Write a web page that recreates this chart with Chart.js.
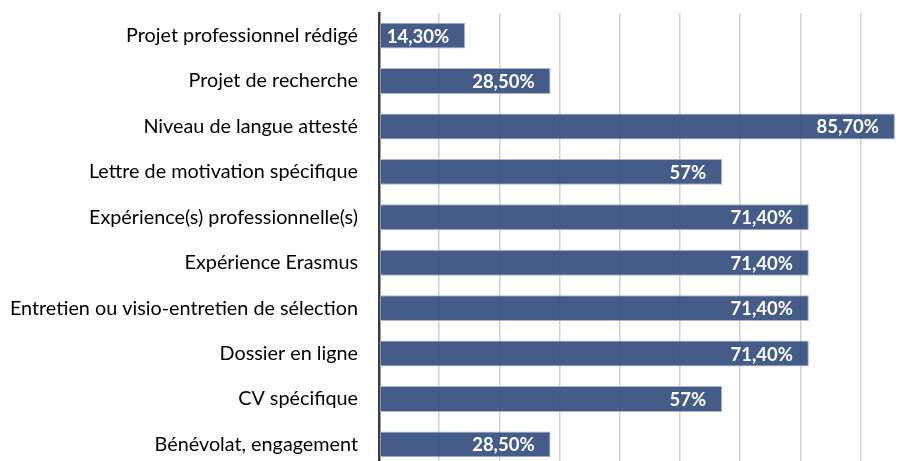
<!DOCTYPE html>
<html>
<head>
<meta charset="utf-8">
<script src="https://cdn.jsdelivr.net/npm/chart.js@4.4.1/dist/chart.umd.min.js"></script>
<style>
  html, body { margin: 0; padding: 0; background: #fff; }
  #wrap { width: 909px; height: 461px; overflow: hidden; position: relative; }
  #wrap canvas { position: absolute; left: 0; top: -12px; }
</style>
</head>
<body>
<div id="wrap"><canvas id="chart" width="982" height="504"></canvas></div>
<script>
const categories = [
  'Projet professionnel rédigé',
  'Projet de recherche',
  'Niveau de langue attesté',
  'Lettre de motivation spécifique',
  'Expérience(s) professionnelle(s)',
  'Expérience Erasmus',
  'Entretien ou visio-entretien de sélection',
  'Dossier en ligne',
  'CV spécifique',
  'Bénévolat, engagement'
];
const percentages = [14.3, 28.5, 85.7, 57, 71.4, 71.4, 71.4, 71.4, 57, 28.5];
const axisMin = 0;
const axisMax = 100;
const axisStep = 10;

// french style: 14,30% / 57%
function formatPct(v) {
  if (Number.isInteger(v)) return v + '%';
  return v.toFixed(2).replace('.', ',') + '%';
}

const FONT = 'Lato, "Open Sans", sans-serif';

const valueLabels = {
  id: 'valueLabels',
  afterDatasetsDraw(chart) {
    const ctx = chart.ctx;
    const meta = chart.getDatasetMeta(0);
    ctx.save();
    ctx.font = 'bold 18.5px ' + FONT;
    ctx.fillStyle = '#ffffff';
    ctx.textAlign = 'right';
    ctx.textBaseline = 'middle';
    meta.data.forEach((bar, i) => {
      ctx.fillText(formatPct(percentages[i]), bar.x - 16, bar.y + 1);
    });
    ctx.restore();
  }
};

new Chart(document.getElementById('chart').getContext('2d'), {
  type: 'bar',
  data: {
    labels: categories,
    datasets: [{
      data: percentages,
      backgroundColor: 'rgba(55, 80, 128, 0.93)',
      borderColor: '#a9b6cf',
      borderWidth: 1,
      borderSkipped: false,
      barPercentage: 0.57,
      categoryPercentage: 1
    }]
  },
  options: {
    indexAxis: 'y',
    responsive: false,
    animation: false,
    layout: { padding: { top: 0, right: 1, bottom: 0, left: 0 } },
    plugins: {
      legend: { display: false },
      tooltip: { enabled: false }
    },
    scales: {
      x: {
        min: axisMin,
        max: axisMax,
        ticks: { display: false, stepSize: axisStep },
        grid: { color: '#d2d2d2', lineWidth: 1.5, drawTicks: false },
        border: { display: false },
        afterFit(scale) { scale.height = 0; }
      },
      y: {
        grid: { display: false },
        border: { display: true, color: '#3c3c3c', width: 2.5 },
        ticks: {
          color: '#000',
          padding: 13,
          font: { family: FONT, size: 19.8 }
        },
        afterFit(scale) { scale.width = 379; }
      }
    }
  },
  plugins: [valueLabels]
});
</script>
</body>
</html>
